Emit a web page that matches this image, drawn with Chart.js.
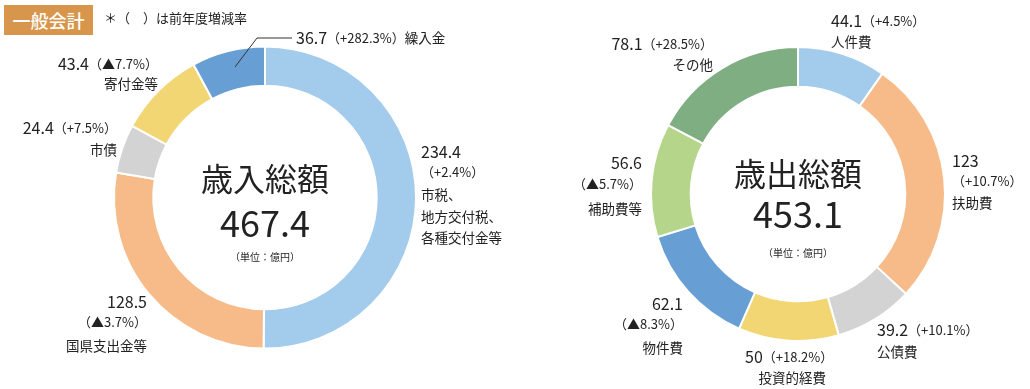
<!DOCTYPE html>
<html>
<head>
<meta charset="utf-8">
<script src="https://cdn.jsdelivr.net/npm/chart.js@4/dist/chart.umd.min.js"></script>
<style>
  body { margin: 0; background: #fff; width: 1030px; height: 389px; position: relative; overflow: hidden; }
  .box { position: absolute; top: 0; width: 515px; height: 389px; }
  #tag { position: absolute; left: 4px; top: 5px; width: 89px; height: 30px; background: #d8964c; color: #fff;
         font: 500 18px "Noto Sans CJK JP"; line-height: 30px; text-align: center; }
  #note { position: absolute; left: 104px; top: 8px; font: 13px "Noto Sans CJK JP"; color: #222; }
</style>
</head>
<body>
<div class="box" style="left:0"><canvas id="chart-rev"></canvas></div>
<div class="box" style="left:515px"><canvas id="chart-exp"></canvas></div>
<div id="tag">一般会計</div>
<div id="note">＊（　）は前年度増減率</div>
<script>
// 歳入 (億円)
var revNames = ['市税、地方交付税、各種交付金等', '国県支出金等', '市債', '寄付金等', '繰入金'];
var revValues = [234.4, 128.5, 24.4, 43.4, 36.7];
var revChanges = ['+2.4%', '▲3.7%', '+7.5%', '▲7.7%', '+282.3%'];
var revColors = ['#a3cbeb', '#f6bb88', '#d3d3d3', '#f3d674', '#679fd5'];

// 歳出 (億円)
var expNames = ['人件費', '扶助費', '公債費', '投資的経費', '物件費', '補助費等', 'その他'];
var expValues = [44.1, 123, 39.2, 50, 62.1, 56.6, 78.1];
var expChanges = ['+4.5%', '+10.7%', '+10.1%', '+18.2%', '▲8.3%', '▲5.7%', '+28.5%'];
var expColors = ['#a3cbeb', '#f6bb88', '#d3d3d3', '#f3d674', '#679fd5', '#b5d68a', '#7fae82'];

var FONT = '"Noto Sans CJK JP", "Noto Sans", sans-serif';
var INK = '#222';

function sum(a) { return a.reduce(function (s, v) { return s + v; }, 0); }

// draw one line made of runs [text, size], anchored at x (left/right/center), middle y
function runs(ctx, parts, x, y, align) {
    var w = 0;
    parts.forEach(function (p) { ctx.font = p[1] + 'px ' + FONT; w += ctx.measureText(p[0]).width; });
    var cx = align === 'right' ? x - w : align === 'center' ? x - w / 2 : x;
    parts.forEach(function (p) {
        ctx.font = p[1] + 'px ' + FONT;
        ctx.textAlign = 'left';
        ctx.textBaseline = 'middle';
        ctx.fillStyle = INK;
        ctx.fillText(p[0], cx, y);
        cx += ctx.measureText(p[0]).width;
    });
}

function num(v) { return [String(v), 16]; }
function chg(c) { return ['（' + c + '）', 13]; }
function nm(t) { return [t, 13.5]; }

var labelPlugin = {
    id: 'labels',
    afterDraw: function (chart, args, opts) {
        var ctx = chart.ctx;
        var area = chart.chartArea;
        var cx = (area.left + area.right) / 2, cy = (area.top + area.bottom) / 2;
        var o = opts.center;
        ctx.save();
        runs(ctx, [[opts.title, 32]], cx, cy + o[0], 'center');
        runs(ctx, [[opts.total, 36]], cx, cy + o[1], 'center');
        runs(ctx, [['（単位：億円）', 10]], cx, cy + o[2], 'center');
        opts.items.forEach(function (it) {
            it.lines.forEach(function (ln, i) {
                runs(ctx, ln, it.x, it.y + i * it.gap[i], it.align);
            });
        });
        if (opts.leader) {
            ctx.strokeStyle = '#333';
            ctx.lineWidth = 1;
            ctx.beginPath();
            ctx.moveTo(opts.leader[0][0], opts.leader[0][1]);
            for (var i = 1; i < opts.leader.length; i++) ctx.lineTo(opts.leader[i][0], opts.leader[i][1]);
            ctx.stroke();
        }
        ctx.restore();
    }
};

function donut(id, values, colors, names, padding, cutout, plug) {
    return new Chart(document.getElementById(id).getContext('2d'), {
        type: 'doughnut',
        data: {
            labels: names,
            datasets: [{
                data: values,
                backgroundColor: colors,
                borderColor: '#fff',
                borderWidth: 2
            }]
        },
        options: {
            responsive: false,
            animation: false,
            cutout: cutout,
            layout: { padding: padding },
            plugins: { legend: { display: false }, tooltip: { enabled: false }, labels: plug }
        },
        plugins: [labelPlugin]
    });
}

['chart-rev', 'chart-exp'].forEach(function (id) {
    var c = document.getElementById(id);
    c.width = 515; c.height = 389;
});

donut('chart-rev', revValues, revColors, revNames,
    { left: 113, right: 98, top: 45, bottom: 39 }, '74%', {
    title: '歳入総額',
    total: sum(revValues).toFixed(1),
    center: [-19, 26, 60],
    leader: [[235, 67], [257, 38], [292, 38]],
    items: [
        { x: 296, y: 38, align: 'left', gap: [0], lines: [[num(revValues[4]), chg(revChanges[4]), nm(revNames[4])]] },
        { x: 158, y: 64, align: 'right', gap: [0, 20], lines: [[num(revValues[3]), chg(revChanges[3])], [nm(revNames[3])]] },
        { x: 117, y: 128, align: 'right', gap: [0, 22], lines: [[num(revValues[2]), chg(revChanges[2])], [nm(revNames[2])]] },
        { x: 421, y: 152, align: 'left', gap: [0, 20, 21.5, 21.5, 21.5],
          lines: [[num(revValues[0])], [chg(revChanges[0])], [nm('市税、')], [nm('地方交付税、')], [nm('各種交付金等')]] },
        { x: 147, y: 302, align: 'right', gap: [0, 20, 22],
          lines: [[num(revValues[1])], [chg(revChanges[1])], [nm(revNames[1])]] }
    ]
});

donut('chart-exp', expValues, expColors, expNames,
    { left: 135, right: 84, top: 46, bottom: 47 }, '73%', {
    title: '歳出総額',
    total: sum(expValues).toFixed(1),
    center: [-20, 20, 59],
    items: [
        { x: 316, y: 21, align: 'left', gap: [0, 21], lines: [[num(expValues[0]), chg(expChanges[0])], [nm(expNames[0])]] },
        { x: 437, y: 161, align: 'left', gap: [0, 20, 21], lines: [[num(expValues[1])], [chg(expChanges[1])], [nm(expNames[1])]] },
        { x: 362, y: 330, align: 'left', gap: [0, 22], lines: [[num(expValues[2]), chg(expChanges[2])], [nm(expNames[2])]] },
        { x: 230, y: 357, align: 'left', gap: [0, 21], lines: [[num(expValues[3]), chg(expChanges[3])], [['　' + expNames[3], 13.5]]] },
        { x: 168, y: 304, align: 'right', gap: [0, 20, 22], lines: [[num(expValues[4])], [chg(expChanges[4])], [nm(expNames[4])]] },
        { x: 127, y: 163, align: 'right', gap: [0, 21, 23], lines: [[num(expValues[5])], [chg(expChanges[5])], [nm(expNames[5])]] },
        { x: 198, y: 44, align: 'right', gap: [0, 21], lines: [[num(expValues[6]), chg(expChanges[6])], [nm(expNames[6])]] }
    ]
});
</script>
</body>
</html>
